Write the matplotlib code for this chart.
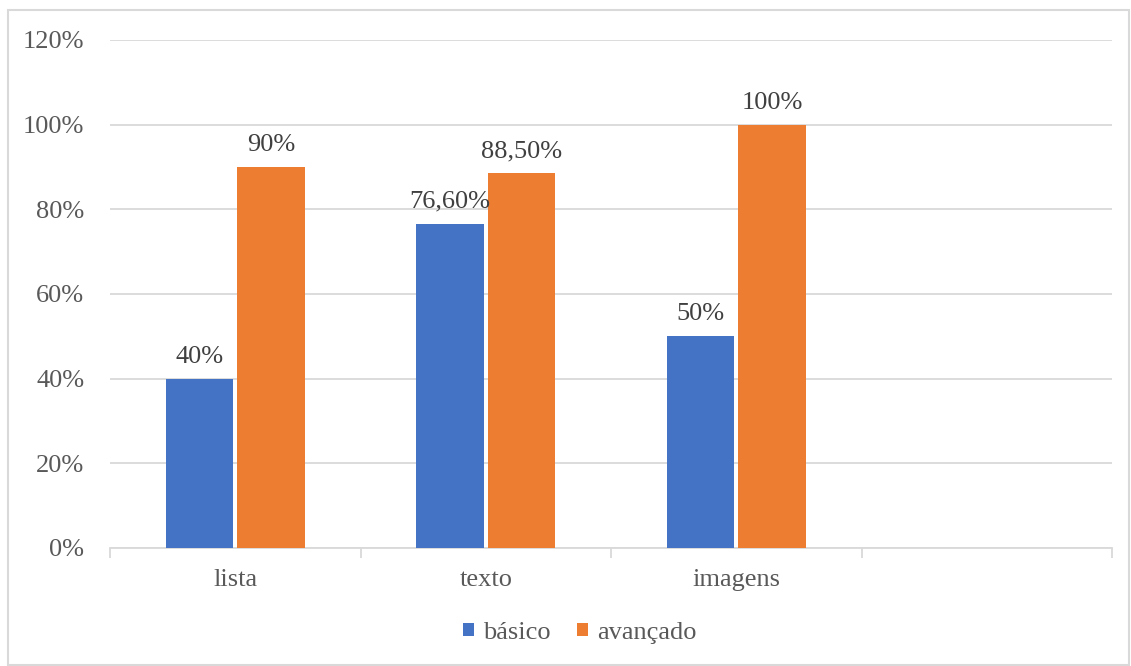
import matplotlib
matplotlib.use("Agg")
import matplotlib.pyplot as plt
from matplotlib.patches import Rectangle
from matplotlib.ticker import FixedLocator
import numpy as np

categories = ["lista", "texto", "imagens", ""]
basico = [0.40, 0.766, 0.50, np.nan]
avancado = [0.90, 0.885, 1.00, np.nan]
basico_labels = ["40%", "76,60%", "50%", ""]
avancado_labels = ["90%", "88,50%", "100%", ""]
series_names = ["básico", "avançado"]
yticks = [0.0, 0.2, 0.4, 0.6, 0.8, 1.0, 1.2]
ytick_labels = ["0%", "20%", "40%", "60%", "80%", "100%", "120%"]

BLUE = "#4472C4"
ORANGE = "#ED7D31"
GRID = "#D9D9D9"
TEXT = "#595959"
FONT = "Liberation Serif"
FS = 19

plt.rcParams["font.family"] = FONT

fig = plt.figure(figsize=(11.31, 6.66), dpi=100)
fig.patches.append(Rectangle((8 / 1131, 1 / 666), 1121 / 1131, 655 / 666,
                             transform=fig.transFigure, fill=False,
                             edgecolor=GRID, linewidth=1.5))

ax = fig.add_axes([110 / 1131, 1 - 548 / 666, 1002 / 1131, 508 / 666])
x = np.arange(len(categories))
w = 0.27
gap = 0.008
b1 = ax.bar(x - w / 2 - gap, basico, w, color=BLUE, label=series_names[0], zorder=3)
b2 = ax.bar(x + w / 2 + gap, avancado, w, color=ORANGE, label=series_names[1], zorder=3)

for bars, labels in ((b1, basico_labels), (b2, avancado_labels)):
    for rect, lab in zip(bars, labels):
        if not lab:
            continue
        ax.annotate(lab, (rect.get_x() + rect.get_width() / 2, rect.get_height()),
                    xytext=(0, 8), textcoords="offset points", ha="center",
                    va="bottom", fontsize=FS, color="#404040", zorder=4)

ax.set_xlim(-0.5, len(categories) - 0.5)
ax.set_ylim(0, 1.2)
ax.set_yticks(yticks)
ax.set_yticklabels(ytick_labels)
ax.yaxis.grid(True, color=GRID, linewidth=1.3, zorder=0)
ax.set_axisbelow(True)

ax.set_xticks(x)
ax.set_xticklabels(categories)
ax.xaxis.set_minor_locator(FixedLocator(np.arange(len(categories) + 1) - 0.5))
ax.tick_params(axis="x", which="major", length=0, pad=15, labelsize=FS, labelcolor=TEXT)
ax.tick_params(axis="x", which="minor", length=7, width=1.3, color=GRID)
ax.tick_params(axis="y", length=0, pad=18.5, labelsize=FS, labelcolor=TEXT)

for s in ("top", "right", "left"):
    ax.spines[s].set_visible(False)
ax.spines["bottom"].set_color(GRID)
ax.spines["bottom"].set_linewidth(1.3)

leg = fig.legend(handles=[b1, b2], labels=series_names, loc="center",
                 bbox_to_anchor=(580 / 1131, 1 - 633 / 666), ncol=2, frameon=False,
                 fontsize=FS, handlelength=0.4, handleheight=0.4,
                 handletextpad=0.35, columnspacing=1.0)
for t in leg.get_texts():
    t.set_color(TEXT)

fig.savefig("out.png", dpi=100)
